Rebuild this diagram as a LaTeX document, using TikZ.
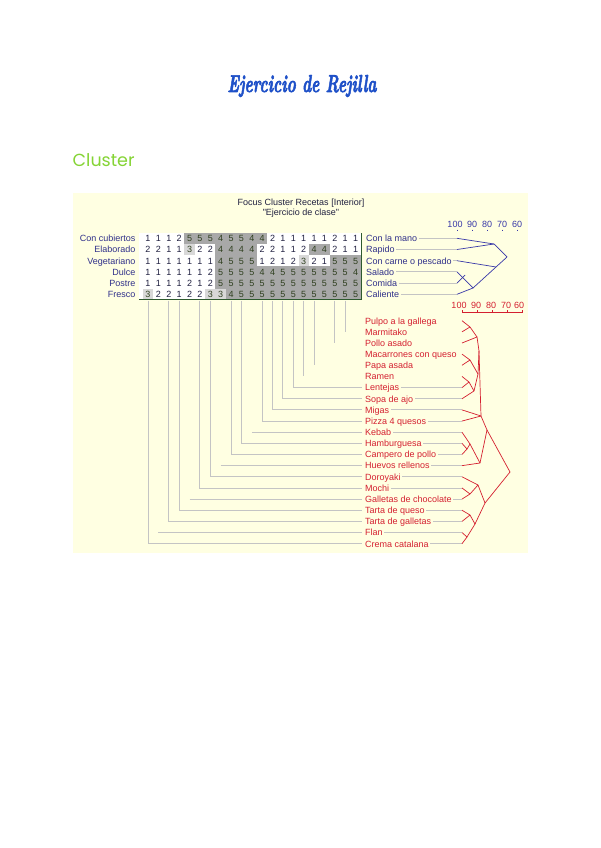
\documentclass[tikz,border=0pt]{standalone}
\usepackage{fontspec}
\newfontfamily\arial{Liberation Sans}
\newfontfamily\pop{Poppins}
\newfontfamily\titlefont[FakeBold=3]{lmroman10-bolditalic.otf}
\definecolor{panelbg}{HTML}{FFFFE2}
\definecolor{dkcell}{HTML}{A8A8A8}
\definecolor{ltcell}{HTML}{D8D8D8}
\definecolor{navy}{HTML}{30308A}
\definecolor{numb}{HTML}{202040}
\definecolor{numg}{HTML}{304020}
\definecolor{redl}{HTML}{D42030}
\definecolor{bluel}{HTML}{3838A8}
\definecolor{grayl}{HTML}{C4C4C4}
\definecolor{grn}{HTML}{2E5A2E}
\definecolor{titleblue}{HTML}{1E50C8}
\definecolor{clgreen}{HTML}{85D435}
\tikzset{
  txt/.style={inner sep=0pt, font=\arial\fontsize{9}{10}\selectfont},
  numst/.style={txt, anchor=base},
  leftlab/.style={txt, anchor=base east, text=navy},
  rightlab/.style={txt, anchor=base west, text=navy},
  itemlab/.style={txt, anchor=base west, text=redl},
  gl/.style={draw=grayl, line width=0.9pt},
  bl/.style={draw=bluel, line width=0.7pt},
  rl/.style={draw=redl, line width=0.7pt},
}
\begin{document}
\begin{tikzpicture}[x=1pt,y=-1pt]
\useasboundingbox (0,0) rectangle (600,848);
\fill[white] (0,0) rectangle (600,848);
% headings
\node[anchor=base, inner sep=0pt, text=titleblue, font=\titlefont\fontsize{18}{20}\selectfont] (title) at (302,92) {\resizebox{149pt}{17pt}{Ejercicio de Rejilla}};
\node[anchor=base west, inner sep=0pt, text=clgreen, font=\pop\fontsize{17.5}{20}\selectfont] (cluster) at (72.5,166.5) {Cluster};
% panel
\fill[panelbg] (73,193) rectangle (528,553);
\node[txt, anchor=base, text=numb] (h1) at (301,205) {Focus Cluster Recetas [Interior]};
\node[txt, anchor=base, text=numb] (h2) at (301,215) {"Ejercicio de clase"};
% grid
\fill[white] (139,232.5) rectangle (361.5,299.5);
\foreach \row [count=\r] in {
 {1,1,1,2,5,5,5,4,5,5,4,4,2,1,1,1,1,1,2,1,1},
 {2,2,1,1,3,2,2,4,4,4,4,2,2,1,1,2,4,4,2,1,1},
 {1,1,1,1,1,1,1,4,5,5,5,1,2,1,2,3,2,1,5,5,5},
 {1,1,1,1,1,1,2,5,5,5,5,4,4,5,5,5,5,5,5,5,4},
 {1,1,1,1,2,1,2,5,5,5,5,5,5,5,5,5,5,5,5,5,5},
 {3,2,2,1,2,2,3,3,4,5,5,5,5,5,5,5,5,5,5,5,5}} {
  \foreach \v [count=\c] in \row {
    \pgfmathsetmacro\cx{148+10.38*(\c-1)}
    \pgfmathsetmacro\ry{238.3+11.2*(\r-1)}
    \ifnum\v>3 \fill[dkcell] (\cx-5.2,\ry-5.6) rectangle (\cx+5.2,\ry+5.6);\fi
    \ifnum\v=3 \fill[ltcell] (\cx-5.2,\ry-5.6) rectangle (\cx+5.2,\ry+5.6);\fi
    \ifnum\v>2 \def\tc{numg}\else\def\tc{numb}\fi
    \node[numst, text=\tc] (g-\r-\c) at (\cx,\ry+3.3) {\v};
  }
}
\draw[grn, line width=0.9pt] (139,299.5) -- (361.5,299.5) -- (361.5,232.5);
% construct labels
\foreach \l/\rr [count=\r] in {Con cubiertos/Con la mano, Elaborado/Rapido, Vegetariano/Con carne o pescado, Dulce/Salado, Postre/Comida, Fresco/Caliente} {
  \pgfmathsetmacro\ry{238.3+11.2*(\r-1)}
  \node[leftlab] (ll\r) at (135.5,\ry+3.3) {\l};
  \node[rightlab] (rl\r) at (366,\ry+3.3) {\rr};
  \coordinate (bl\r) at (457,\ry);
  \draw[gl] ([xshift=1.5pt]rl\r.east |- bl\r) -- (bl\r);
}
% top scale
\foreach \t/\x [count=\i] in {100/455,90/472,80/487,70/502,60/517} {
  \node[txt, anchor=base, text=bluel] (ts\i) at (\x,227) {\t};
}
\foreach \x [count=\i] in {457,472,487,502,517} {
  \coordinate (tt\i) at (\x,229.5);
  \draw[bl] (tt\i) -- ++(0,1.8);
}
% top dendrogram
\coordinate (b12) at (494,244);
\coordinate (b36) at (496,267);
\coordinate (b456) at (473,288);
\coordinate (broot) at (507,257);
\coordinate (b5e) at (465,275);
\draw[bl] (bl1) -- (b12);
\draw[bl] (bl2) -- (b12);
\draw[bl] (b12) -- (broot);
\draw[bl] (bl3) -- (b36);
\draw[bl] (b456) -- (b36) -- (broot);
\draw[bl] (bl4) -- (b456);
\draw[bl] (bl6) -- (b456);
\draw[bl] (bl5) -- (b5e);
% items
\foreach \it [count=\k] in {Pulpo a la gallega, Marmitako, Pollo asado, Macarrones con queso, Papa asada, Ramen, Lentejas, Sopa de ajo, Migas, Pizza 4 quesos, Kebab, Hamburguesa, Campero de pollo, Huevos rellenos, Doroyaki, Mochi, Galletas de chocolate, Tarta de queso, Tarta de galletas, Flan, Crema catalana} {
  \pgfmathsetmacro\yk{320.7+11.15*(\k-1)}
  \node[itemlab] (it\k) at (365,\yk+3.3) {\it};
  \coordinate (leaf\k) at (462,\yk);
  \coordinate (hend\k) at (361.5,\yk);
}
% column tops
\foreach \c in {1,...,21} {
  \pgfmathsetmacro\cx{148+10.38*(\c-1)}
  \coordinate (top\c) at (\cx,300.5);
}
% full L connectors: item k <- column 22-k
\foreach \k in {7,8,9,10,12,13,15,16,18,19,21} {
  \pgfmathtruncatemacro\j{22-\k}
  \draw[gl] (top\j) |- (hend\k);
}
% horizontal only
\foreach \k in {11,14,17,20} {
  \pgfmathtruncatemacro\j{22-\k}
  \draw[gl] (top\j |- hend\k) -- (hend\k);
}
% vertical only
\foreach \k in {2,3,5,6} {
  \pgfmathtruncatemacro\j{22-\k}
  \draw[gl] (top\j) -- (top\j |- hend\k);
}
% lines from labels to dendrogram
\foreach \k in {7,...,21} {
  \draw[gl] ([xshift=1.5pt]it\k.east |- leaf\k) -- (leaf\k);
}
% bottom scale
\foreach \t/\x [count=\i] in {100/459,90/476,80/491,70/506,60/519} {
  \node[txt, anchor=base, text=redl] (bs\i) at (\x,308.8) {\t};
}
\coordinate (sb1) at (462,312.5);
\coordinate (sb2) at (522,312.5);
\draw[rl] (sb1) -- (sb2);
\foreach \x [count=\i] in {462,477,492,507,522} {
  \coordinate (bt\i) at (\x,312.5);
  \draw[rl] (bt\i) -- ++(0,-3);
}
% red dendrogram
\coordinate (r12) at (470,327);
\coordinate (r123) at (477,337);
\coordinate (r45) at (470,360);
\coordinate (r67) at (469,382);
\coordinate (r678) at (474,391);
\coordinate (r48) at (478,374);
\coordinate (r18) at (479,351);
\coordinate (r110) at (481,416);
\coordinate (r1213) at (467,449);
\coordinate (r1113) at (470,444);
\coordinate (r1114) at (480,463);
\coordinate (r114) at (487,430);
\coordinate (r1617) at (470,494);
\coordinate (r1517) at (478,485);
\coordinate (r1819) at (470,515);
\coordinate (r2021) at (467,537);
\coordinate (r1821) at (475,524);
\coordinate (r1521) at (485,503);
\coordinate (rroot) at (510,472);
\foreach \a/\b in {leaf1/r12, leaf2/r12, r12/r123, leaf3/r123, leaf4/r45, leaf5/r45, leaf6/r67, leaf7/r67, r67/r678, leaf8/r678, r45/r48, r678/r48, r123/r18, r48/r18, r18/r110, leaf9/r110, leaf10/r110, leaf12/r1213, leaf13/r1213, leaf11/r1113, r1213/r1113, r1113/r1114, leaf14/r1114, r110/r114, r1114/r114, leaf16/r1617, leaf17/r1617, leaf15/r1517, r1617/r1517, leaf18/r1819, leaf19/r1819, leaf20/r2021, leaf21/r2021, r1819/r1821, r2021/r1821, r1517/r1521, r1821/r1521, r114/rroot, r1521/rroot} {
  \draw[rl] (\a) -- (\b);
}
\end{tikzpicture}
\end{document}
